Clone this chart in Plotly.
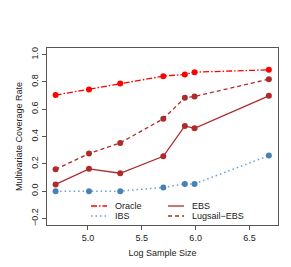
import plotly.graph_objects as go

log_n = [4.70, 5.01, 5.30, 5.70, 5.90, 5.99, 6.68]
oracle = [0.703, 0.745, 0.788, 0.842, 0.854, 0.871, 0.888]
lugsail_ebs = [0.160, 0.275, 0.353, 0.530, 0.684, 0.693, 0.820]
ebs = [0.049, 0.163, 0.131, 0.255, 0.477, 0.460, 0.698]
ibs = [0.000, 0.000, 0.000, 0.027, 0.053, 0.053, 0.260]

x_ticks = [5.0, 5.5, 6.0, 6.5]
x_labels = ["5.0", "5.5", "6.0", "6.5"]
y_ticks = [-0.2, 0.0, 0.2, 0.4, 0.6, 0.8, 1.0]
y_labels = ["\u22120.2", "0.0", "0.2", "0.4", "0.6", "0.8", "1.0"]

RED = "#FF0000"
BROWN = "#AE2B2B"
BLUE_M = "#4682B4"
BLUE_L = "#6A9FD2"

DASHDOT = "6px,2px,1.5px,2px"
DASH = "4px,3px"
DOT = "1.5px,3px"

series = [
    ("Oracle", oracle, RED, RED, DASHDOT, 1.3),
    ("Lugsail\u2212EBS", lugsail_ebs, BROWN, BROWN, DASH, 1.3),
    ("EBS", ebs, BROWN, BROWN, "solid", 1.3),
    ("IBS", ibs, BLUE_L, BLUE_M, DOT, 1.5),
]

FONT = "Liberation Sans, Arial, sans-serif"
fig = go.Figure()
for name, ys, lc, mc, dash, lw in series:
    fig.add_trace(go.Scatter(
        x=log_n, y=ys, mode="lines+markers", name=name, showlegend=False,
        line=dict(color=lc, width=lw, dash=dash),
        marker=dict(color=mc, size=6),
    ))

# legend (two columns, drawn as keys + text in paper coords)
legend_items = [
    ("Oracle", RED, DASHDOT, 0, 0),
    ("IBS", BLUE_L, DOT, 0, 1),
    ("EBS", BROWN, "solid", 1, 0),
    ("Lugsail\u2212EBS", BROWN, DASH, 1, 1),
]
W, H = 231.0, 177.0
x0_px = [83 - 39, 160 - 39]
y_px = [198 - 40, 208 - 40]
shapes = []
annotations = []
for label, col, dash, cidx, ridx in legend_items:
    xs = x0_px[cidx] / W
    xe = (x0_px[cidx] + 16) / W
    yy = 1 - y_px[ridx] / H
    shapes.append(dict(type="line", xref="paper", yref="paper", x0=xs, x1=xe,
                       y0=yy, y1=yy, line=dict(color=col, width=1.3, dash=dash)))
    annotations.append(dict(xref="paper", yref="paper", x=(x0_px[cidx] + 22) / W, y=yy,
                            text=label, showarrow=False, xanchor="left", yanchor="middle",
                            font=dict(family=FONT, size=9, color="#222")))

fig.update_layout(
    width=291, height=267,
    margin=dict(l=39, r=21, t=40, b=50),
    paper_bgcolor="white", plot_bgcolor="white",
    font=dict(family=FONT, size=9, color="#222"),
    shapes=shapes, annotations=annotations,
    xaxis=dict(range=[4.62, 6.765], tickvals=x_ticks, ticktext=x_labels,
               automargin=False,
               showgrid=False, zeroline=False, showline=True, mirror=True,
               linecolor="#555", linewidth=1, ticks="outside", ticklen=4,
               tickcolor="#555",
               title=dict(text="Log Sample Size", font=dict(size=9), standoff=7)),
    yaxis=dict(range=[-0.248, 1.048], tickvals=y_ticks, ticktext=y_labels,
               tickangle=-90, automargin=False,
               showgrid=False, zeroline=False, showline=True, mirror=True,
               linecolor="#555", linewidth=1, ticks="outside", ticklen=4,
               tickcolor="#555",
               title=dict(text="Multivariate Coverage Rate", font=dict(size=9), standoff=6)),
)

fig.write_html("out.html")
